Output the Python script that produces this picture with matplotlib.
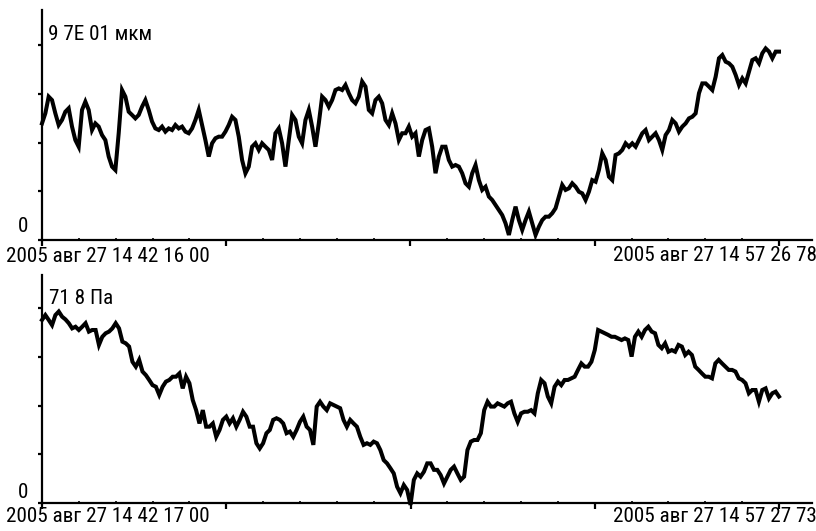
import numpy as np
import matplotlib
matplotlib.use('Agg')
import matplotlib.pyplot as plt
from matplotlib import font_manager
from matplotlib.ticker import FixedLocator, MultipleLocator

# displacement, мкм (sampled uniformly over the record)
disp = [
    58.0, 63.0, 71.3, 69.6, 63.0, 57.2, 59.7, 63.8, 65.5, 56.4, 49.7, 46.4,
    64.7, 68.8, 64.7, 54.7, 58.0, 56.4, 52.2, 49.7, 41.5, 36.5, 34.8, 53.1,
    74.6, 71.3, 63.8, 62.2, 60.5, 62.2, 66.3, 69.6, 64.7, 58.9, 55.5, 54.7,
    56.4, 53.9, 55.5, 54.7, 57.2, 55.5, 56.4, 53.9, 53.1, 55.5, 59.7, 64.7,
    57.2, 49.7, 41.5, 48.1, 50.6, 51.4, 51.4, 53.9, 57.2, 61.3, 59.7, 51.4,
    39.8, 33.2, 36.5, 46.4, 48.1, 44.8, 48.1, 46.4, 44.8, 39.8, 53.1, 55.5,
    48.1, 36.5, 49.7, 62.2, 59.7, 51.4, 48.1, 59.7, 64.7, 56.4, 46.4, 58.0,
    71.3, 69.6, 66.3, 69.6, 74.6, 75.4, 74.6, 77.1, 73.0, 69.6, 68.0, 71.3,
    78.8, 76.3, 64.7, 63.0, 69.6, 71.3, 68.0, 59.7, 57.2, 63.0, 58.0, 49.7,
    53.1, 53.1, 56.4, 51.4, 53.1, 41.5, 49.7, 54.7, 55.5, 46.4, 33.2, 41.5,
    46.4, 46.4, 39.8, 36.5, 37.3, 36.5, 33.2, 28.2, 26.5, 33.2, 37.3, 29.8,
    24.9, 26.5, 21.6, 19.9, 17.4, 14.9, 12.4, 8.3, 2.5, 9.9, 16.6, 9.9,
    5.0, 9.9, 14.1, 8.3, 2.5, 6.6, 9.9, 11.6, 11.6,
    13.3, 15.8, 21.6, 27.4, 24.9, 25.7, 28.2, 26.5, 24.0, 23.2, 19.9, 24.0,
    29.8, 29.0, 34.8, 43.1, 39.8, 31.5, 29.8, 42.3, 43.1, 44.8, 48.1, 46.4,
    48.1, 46.4, 49.7, 53.1, 54.7, 49.7, 51.4, 53.1, 49.7, 44.8, 52.2, 54.7,
    59.7, 58.0, 53.9, 56.4, 58.0, 60.5, 61.3, 63.0, 73.0, 77.9, 77.9, 76.3,
    74.6, 81.2, 90.4, 92.0, 88.7, 87.9, 86.2, 82.1, 77.1, 80.4, 77.9, 83.7,
    89.5, 90.4, 87.9, 92.9, 95.3, 93.7, 90.4, 93.7, 93.7,
]

# pressure, Па
press = [
    67.4, 69.2, 67.4, 65.5, 69.2, 70.5, 68.6, 67.6, 66.2, 64.3, 64.9, 63.7,
    64.9, 66.2, 63.1, 63.7, 63.7, 58.2, 61.2, 62.5, 63.1, 64.3, 66.2, 64.3,
    59.4, 58.8, 57.6, 52.0, 50.2, 52.7, 48.4, 47.1, 45.3, 43.4, 42.8, 39.8,
    42.8, 44.7, 45.3, 46.5, 46.5, 47.7, 42.2, 46.5, 44.1, 37.9, 34.2, 29.3,
    34.2, 28.1, 28.1, 29.3, 24.4, 26.9, 30.6, 31.8, 29.3, 31.2, 28.1, 30.6,
    33.6, 31.8, 28.1, 28.1, 22.0, 20.1, 22.0, 25.7, 26.9, 30.6, 31.2, 30.6,
    29.3, 25.7, 26.3, 24.4, 26.9, 29.9, 31.8, 28.1, 26.9, 21.4, 35.5, 37.3,
    35.5, 34.2, 36.7, 36.1, 35.5, 34.9, 30.6, 28.1, 30.6, 29.3, 28.1, 24.4,
    21.4, 22.0, 21.4, 22.6, 22.0, 19.5, 15.8, 14.6, 12.8, 10.9, 6.0, 3.6,
    6.6, 4.8, -0.7, 8.5, 10.9, 9.7, 11.5, 14.6, 14.6, 12.2, 12.2, 10.3,
    7.2, 9.7, 12.2, 13.4, 10.9, 8.5, 9.7, 19.5, 22.6, 23.2, 23.2, 25.7,
    34.2, 37.3, 35.5, 35.5, 36.7, 36.1, 35.5, 36.7, 37.3, 33.0, 29.9, 33.0,
    33.6, 33.6, 34.2, 33.0, 40.4, 45.3, 44.1, 39.2, 36.7,
    42.8, 44.7, 43.4, 45.3, 45.3, 45.9, 46.5, 49.0, 51.4, 50.2, 50.2, 52.0,
    56.3, 63.7, 63.1, 62.5, 61.9, 61.2, 61.2, 60.6, 60.0, 60.6, 60.0, 53.9,
    61.2, 63.1, 61.2, 63.7, 64.9, 63.1, 62.5, 58.2, 57.0, 58.8, 55.7, 56.3,
    55.7, 58.2, 57.6, 54.5, 55.7, 54.5, 50.2, 49.0, 47.7, 46.5, 46.5, 45.9,
    51.4, 52.7, 51.4, 50.2, 49.0, 49.0, 48.4, 45.9, 45.3, 44.1, 40.4, 41.6,
    41.6, 37.3, 41.6, 42.2, 38.5, 40.4, 41.0, 39.2,
]

disp_span = 910.78    # s, 14:42:16.00 .. 14:57:26.78
press_span = 910.73   # s, 14:42:17.00 .. 14:57:27.73
disp_max = 97.0
press_max = 71.8

labels_top = ['9 7E 01 мкм', '0', '2005 авг 27 14 42 16 00', '2005 авг 27 14 57 26 78']
labels_bot = ['71 8 Па', '0', '2005 авг 27 14 42 17 00', '2005 авг 27 14 57 27 73']

# prefer a narrow face if one is installed
names = {f.name for f in font_manager.fontManager.ttflist}
fam = 'Liberation Sans'
for cand in ['Liberation Sans Narrow', 'DejaVu Sans Condensed', 'Roboto Condensed']:
    if cand in names:
        fam = cand
        break
plt.rcParams['font.family'] = [fam, 'DejaVu Sans']
fs = 15.2 if fam != 'Liberation Sans' else 13.4

W, H = 816, 531
fig = plt.figure(figsize=(W / 100, H / 100), dpi=100)


def px(x, y):
    return x / W, 1 - y / H


def panel(rect, vals, span, vmax, ytop_px, yaxis_px):
    ax = fig.add_axes(rect)
    t = np.linspace(0, span, len(vals))
    ax.plot(t, vals, color='black', lw=2.9, solid_joinstyle='miter', clip_on=False)
    ax.set_xlim(0, span * 770 / 737)
    ax.set_ylim(0, vmax * (yaxis_px - ytop_px) / 195)
    for s in ['top', 'right']:
        ax.spines[s].set_visible(False)
    for s in ['left', 'bottom']:
        ax.spines[s].set_linewidth(1.6)
        ax.spines[s].set_color('black')
    ax.xaxis.set_major_locator(FixedLocator(np.linspace(0, span, 5)))
    ax.xaxis.set_minor_locator(MultipleLocator(span / 20))
    ax.yaxis.set_major_locator(FixedLocator(np.linspace(0, vmax, 5)))
    ax.tick_params(axis='x', which='major', direction='out', length=4, width=1.6,
                   labelbottom=False)
    ax.tick_params(axis='x', which='minor', direction='in', length=1.5, width=1.2)
    ax.tick_params(axis='y', which='major', direction='out', length=3, width=1.6,
                   labelleft=False)
    ax.patch.set_alpha(0)
    return ax


ax1 = panel([42 / W, 1 - 240 / H, 770 / W, 230 / H], disp, disp_span, disp_max, 10, 240)
ax2 = panel([42 / W, 1 - 503 / H, 770 / W, 228 / H], press, press_span, press_max, 275, 503)

fig.text(*px(48, 35), labels_top[0], fontsize=fs, va='center', ha='left')
fig.text(*px(23, 226), labels_top[1], fontsize=fs, va='center', ha='center')
fig.text(*px(6, 257), labels_top[2], fontsize=fs, va='center', ha='left')
fig.text(*px(817, 256), labels_top[3], fontsize=fs, va='center', ha='right')

fig.text(*px(49, 298), labels_bot[0], fontsize=fs, va='center', ha='left')
fig.text(*px(23, 492), labels_bot[1], fontsize=fs, va='center', ha='center')
fig.text(*px(6, 517), labels_bot[2], fontsize=fs, va='center', ha='left')
fig.text(*px(817, 517), labels_bot[3], fontsize=fs, va='center', ha='right')

fig.savefig('out.png', dpi=100, facecolor='white')
